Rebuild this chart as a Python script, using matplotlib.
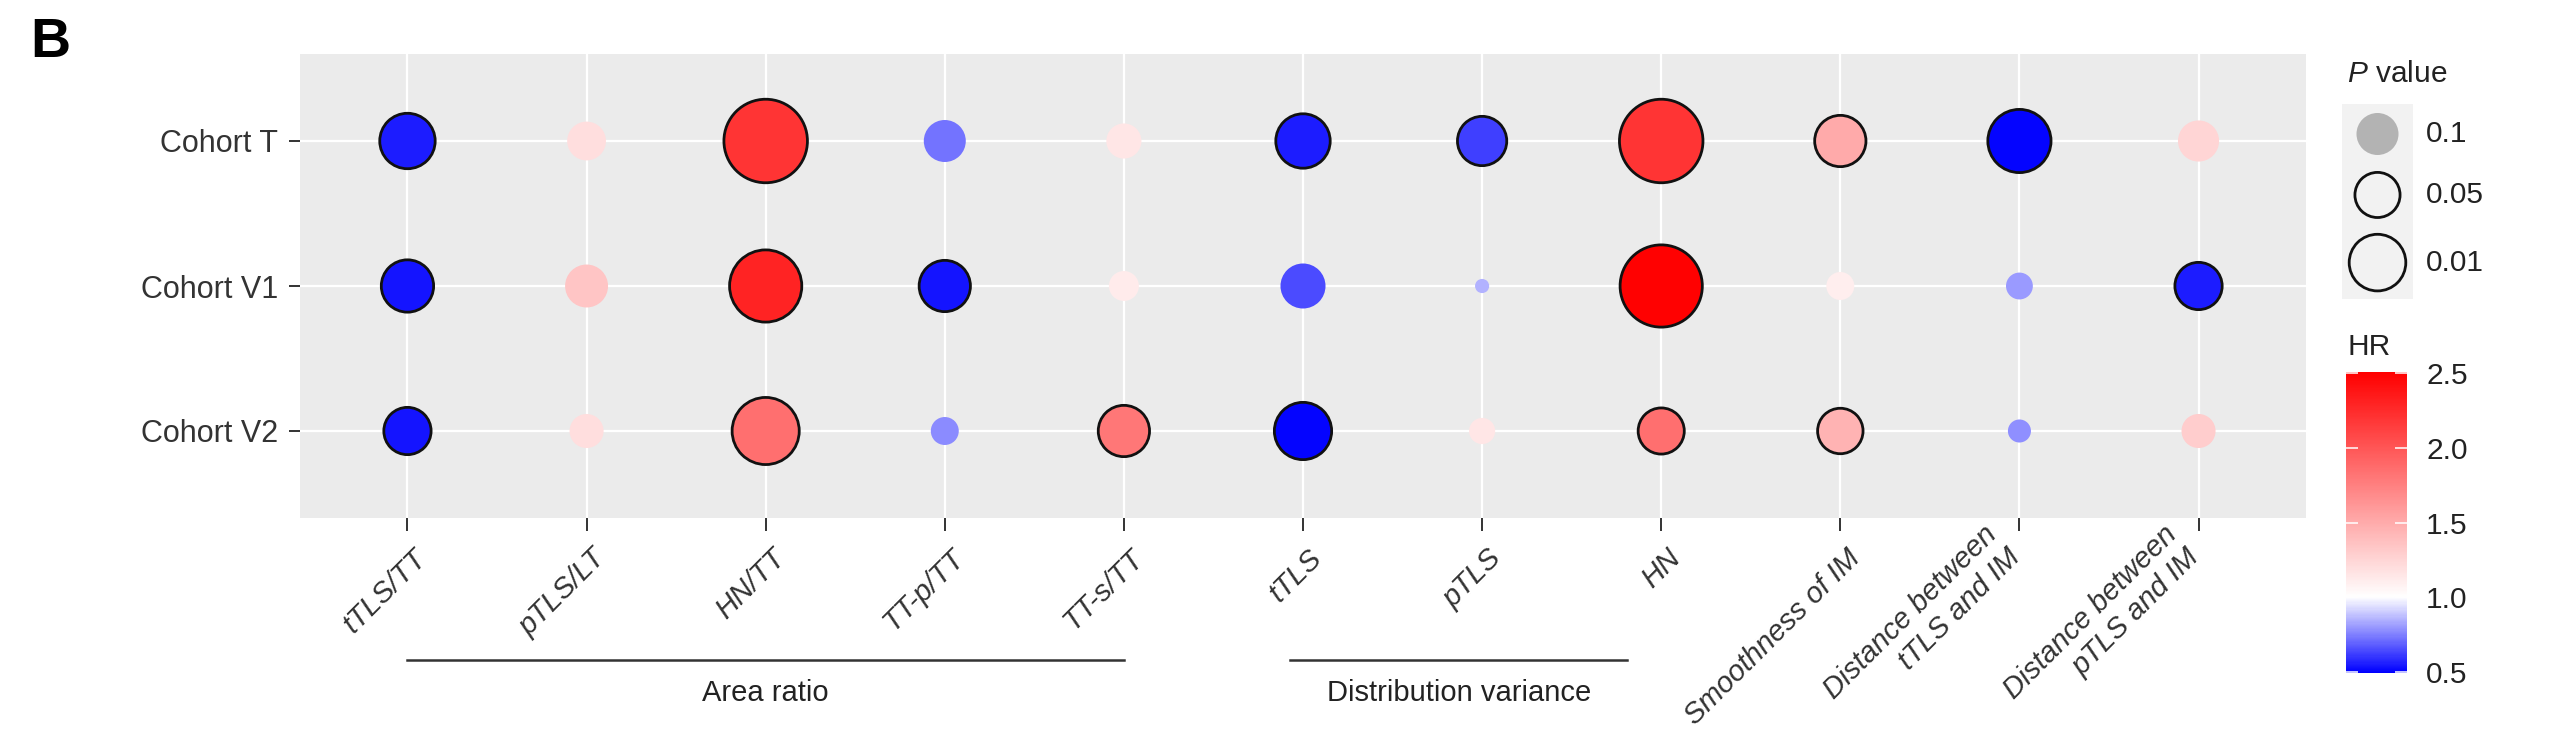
import numpy as np
import matplotlib
matplotlib.use('Agg')
import matplotlib.pyplot as plt
import matplotlib.transforms as mtransforms
from matplotlib.colors import LinearSegmentedColormap, Normalize
from matplotlib.cm import ScalarMappable
from matplotlib.ticker import FormatStrFormatter

plt.rcParams['font.family'] = ['Liberation Sans', 'DejaVu Sans']
plt.rcParams['mathtext.fontset'] = 'custom'
plt.rcParams['mathtext.it'] = 'Liberation Sans:italic'
plt.rcParams['mathtext.rm'] = 'Liberation Sans'

# data
features = ['tTLS/TT', 'pTLS/LT', 'HN/TT', 'TT-p/TT', 'TT-s/TT', 'tTLS', 'pTLS', 'HN',
            'Smoothness of IM', 'Distance between\ntTLS and IM', 'Distance between\npTLS and IM']
cohorts = ['Cohort T', 'Cohort V1', 'Cohort V2']

hr_T = [0.55, 1.20, 2.20, 0.72, 1.15, 0.55, 0.62, 2.20, 1.50, 0.50, 1.25]
hr_V1 = [0.53, 1.35, 2.30, 0.53, 1.12, 0.64, 0.85, 2.50, 1.10, 0.80, 0.55]
hr_V2 = [0.53, 1.20, 1.85, 0.77, 1.80, 0.50, 1.15, 1.85, 1.45, 0.78, 1.30]

p_T = [0.012, 0.14, 0.00006, 0.10, 0.20, 0.014, 0.029, 0.00006, 0.022, 0.0034, 0.11]
p_V1 = [0.019, 0.09, 0.00065, 0.022, 0.31, 0.071, 0.77, 0.00008, 0.36, 0.39, 0.038]
p_V2 = [0.038, 0.22, 0.0017, 0.36, 0.022, 0.009, 0.41, 0.044, 0.048, 0.50, 0.22]

group_names = ['Area ratio', 'Distribution variance']
group_start = [0, 4.93]
group_end = [4, 6.81]

legend_p = [0.1, 0.05, 0.01]
legend_lab = ['0.1', '0.05', '0.01']
hr_ticks = [0.5, 1.0, 1.5, 2.0, 2.5]
hr_min, hr_max = 0.49, 2.51

W, H, DPI = 2552, 734, 100
EDGE = 2.0  # pt
FS_Y = 22
FS_X = 21
FS_LEG = 21.5

def diam_px(p):
    return 42 * np.sqrt(-np.log10(np.asarray(p, dtype=float)))

def marker_s(p, edged):
    d = diam_px(p) - np.where(edged, EDGE * DPI / 72, 0)
    return (d * 72 / DPI) ** 2

wpos = (1 - hr_min) / (hr_max - hr_min)
cmap = LinearSegmentedColormap.from_list('hr', [(0, '#0000FF'), (wpos, '#FFFFFF'), (1, '#FF0000')])
norm = Normalize(hr_min, hr_max)

fig = plt.figure(figsize=(W / DPI, H / DPI), dpi=DPI)

ax = fig.add_axes([300 / W, 1 - 518 / H, (2306 - 300) / W, (518 - 54) / H])
ax.set_facecolor('#EBEBEB')
for s in ax.spines.values():
    s.set_visible(False)
ax.grid(True, color='white', lw=1.6)
ax.set_axisbelow(True)

x = np.arange(len(features))
for i, (hr, p) in enumerate(zip([hr_T, hr_V1, hr_V2], [p_T, p_V1, p_V2])):
    p = np.array(p)
    edged = p <= 0.05
    ax.scatter(x, np.full(len(x), i), s=marker_s(p, edged), c=cmap(norm(hr)),
               edgecolors=np.where(edged, '#111111', 'none'), linewidths=EDGE, zorder=3)

ax.set_xlim(-0.6, len(features) - 0.4)
ax.set_ylim(len(cohorts) - 0.4, -0.6)
ax.set_xticks(x)
ax.set_xticklabels(features, rotation=45, ha='right', va='top', rotation_mode='anchor',
                   fontstyle='italic', multialignment='right', fontsize=FS_X, color='#333333')
ax.set_yticks(range(len(cohorts)))
ax.set_yticklabels(cohorts, fontsize=FS_Y, color='#333333')
ax.tick_params(axis='x', length=9.4, width=1.4, color='#333333', pad=5)
ax.tick_params(axis='y', length=8, width=1.4, color='#333333', pad=8)

# nudge the rotated labels (after tick_params, which resets transforms)
shift_one = mtransforms.ScaledTranslation(5 / DPI, -6 / DPI, fig.dpi_scale_trans)
shift_two = mtransforms.ScaledTranslation(-15 / DPI, -4 / DPI, fig.dpi_scale_trans)
for lab in ax.get_xticklabels():
    if '\n' in lab.get_text():
        lab.set_va('center')
        lab.set_transform(lab.get_transform() + shift_two)
    else:
        lab.set_transform(lab.get_transform() + shift_one)

# group brackets under the labels
trans = mtransforms.blended_transform_factory(ax.transData, fig.transFigure)
for name, a, b in zip(group_names, group_start, group_end):
    ax.plot([a, b], [1 - 660 / H, 1 - 660 / H], transform=trans, clip_on=False,
            color='#333333', lw=1.8)
    ax.text((a + b) / 2, 1 - 693 / H, name, transform=trans, ha='center', va='center',
            fontsize=21, color='#222222')

# P value legend
fig.text(2347 / W, 1 - 82 / H, r'$\mathit{P}$ value', va='baseline', fontsize=FS_LEG, color='#222222')
ld = diam_px(legend_p)
key_h = np.maximum(ld, 46) + 14
centers = np.cumsum(key_h) - key_h / 2
lax = fig.add_axes([2342 / W, 1 - (104 + key_h.sum()) / H, 71 / W, key_h.sum() / H])
lax.set_facecolor('#F2F2F2')
for s in lax.spines.values():
    s.set_visible(False)
lax.set_xticks([])
lax.set_yticks([])
lax.set_xlim(0, 1)
lax.set_ylim(key_h.sum(), 0)
ledged = np.array(legend_p) <= 0.05
lax.scatter(np.full(3, 0.5), centers, s=marker_s(legend_p, ledged),
            facecolors=np.where(ledged, 'none', '#B3B3B3'),
            edgecolors=np.where(ledged, '#111111', 'none'), linewidths=EDGE, clip_on=False)
ltrans = mtransforms.blended_transform_factory(fig.transFigure, lax.transData)
for c, lab in zip(centers, legend_lab):
    lax.text(2426 / W, c, lab, transform=ltrans, va='center', ha='left', fontsize=FS_LEG,
             color='#222222')

# HR colour bar
fig.text(2347 / W, 1 - 355 / H, 'HR', va='baseline', fontsize=FS_LEG, color='#222222')
cax = fig.add_axes([2346 / W, 1 - 673 / H, 61 / W, 301 / H])
cb = fig.colorbar(ScalarMappable(norm=norm, cmap=cmap), cax=cax, ticks=hr_ticks)
cb.outline.set_visible(False)
cax.yaxis.set_major_formatter(FormatStrFormatter('%.1f'))
cax.tick_params(direction='in', color='white', length=8.6, width=1.1, left=True, right=True,
                labelleft=False, labelright=True, labelsize=FS_LEG, labelcolor='#222222', pad=13.7)

fig.text(30 / W, 1 - 17 / H, 'B', fontsize=40, fontweight='bold', va='top', ha='left')

fig.savefig('out.png', dpi=DPI)
